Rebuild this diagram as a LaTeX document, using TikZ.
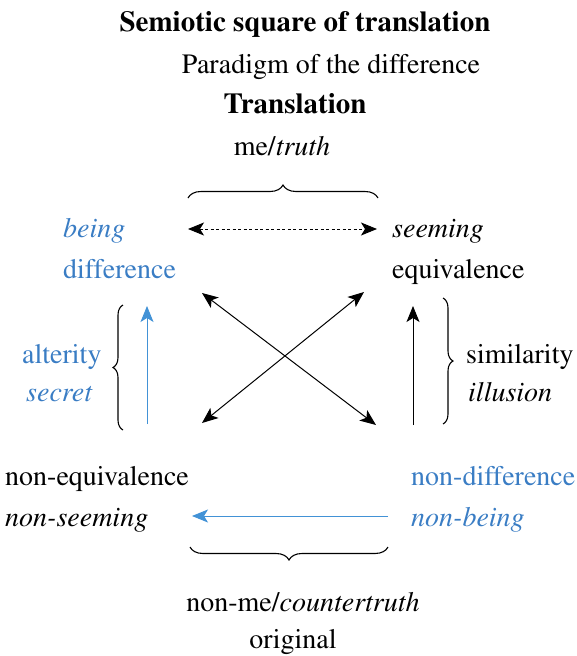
\documentclass[tikz,border=0pt]{standalone}
\usepackage[T1]{fontenc}
\usepackage{mathptmx}
\usetikzlibrary{arrows.meta,decorations.pathreplacing}
\definecolor{myblue}{RGB}{58,125,196}
\definecolor{arrblue}{RGB}{66,146,214}
\begin{document}
\begin{tikzpicture}[x=1pt,y=-1pt,
  lbl/.style={inner sep=0pt, font=\fontsize{28}{33}\selectfont},
  bl/.style={lbl, text=myblue},
  arr/.style={line width=1pt, -{Stealth[length=16pt,width=13pt,inset=4pt]}},
  dbl/.style={line width=1pt, {Stealth[length=16pt,width=13pt,inset=4pt]}-{Stealth[length=16pt,width=13pt,inset=4pt]}},
  brc/.style={decorate, decoration={brace, amplitude=13pt}, line width=1.1pt},
  vbrc/.style={decorate, decoration={brace, amplitude=10pt}, line width=1.1pt}]
\useasboundingbox (0,0) rectangle (577,656);
% titles
\node[lbl, anchor=base, font=\fontsize{29}{33}\selectfont\bfseries] (title) at (305,31) {Semiotic square of translation};
\node[lbl, anchor=base] (para) at (331,73) {Paradigm of the difference};
\node[lbl, anchor=base, font=\fontsize{29}{33}\selectfont\bfseries] (transl) at (295,113) {Translation};
\node[lbl, anchor=base] (me) at (282,155) {me/\textit{truth}};
% corners
\node[bl, anchor=base west] (being) at (63,237) {\textit{being}};
\node[bl, anchor=base west] (diff) at (63,278) {difference};
\node[lbl, anchor=base west] (seem) at (392,237) {\textit{seeming}};
\node[lbl, anchor=base west] (equiv) at (392,278) {equivalence};
\node[bl, anchor=base west] (alter) at (22,363) {alterity};
\node[bl, anchor=base west] (secret) at (26,401) {\textit{secret}};
\node[lbl, anchor=base west] (simil) at (466,363) {similarity};
\node[lbl, anchor=base west] (illus) at (468,401) {\textit{illusion}};
\node[lbl, anchor=base west] (nequiv) at (5,485) {non-equivalence};
\node[lbl, anchor=base west] (nseem) at (5,526) {\textit{non-seeming}};
\node[bl, anchor=base west] (ndiff) at (411,485) {non-difference};
\node[bl, anchor=base west] (nbeing) at (411,526) {\textit{non-being}};
\node[lbl, anchor=base] (nme) at (303,611) {non-me/\textit{countertruth}};
\node[lbl, anchor=base] (orig) at (293,648) {original};
% arrow end points
\coordinate (dl) at (188,229);
\coordinate (dr) at (377,229);
\coordinate (ul) at (202,293);
\coordinate (ur) at (364,292);
\coordinate (ll) at (202,423);
\coordinate (lr) at (376,425);
\coordinate (bup) at (147,306);
\coordinate (bdn) at (147,424);
\coordinate (kup) at (413,306);
\coordinate (kdn) at (413,425);
\coordinate (hr) at (388,516);
\coordinate (hl) at (192,516);
% arrows
\draw[dbl, dash pattern=on 3pt off 2.5pt] (dl) -- (dr);
\draw[dbl] (ul) -- (lr);
\draw[dbl] (ll) -- (ur);
\draw[arr, arrblue] (bdn) -- (bup);
\draw[arr] (kdn) -- (kup);
\draw[arr, arrblue] (hr) -- (hl);
% braces
\draw[brc] (188,198) -- (378,198);
\draw[brc] (388,547) -- (190,547);
\draw[vbrc] (123,430) -- (123,305);
\draw[vbrc] (443,298) -- (443,424);
\end{tikzpicture}
\end{document}
